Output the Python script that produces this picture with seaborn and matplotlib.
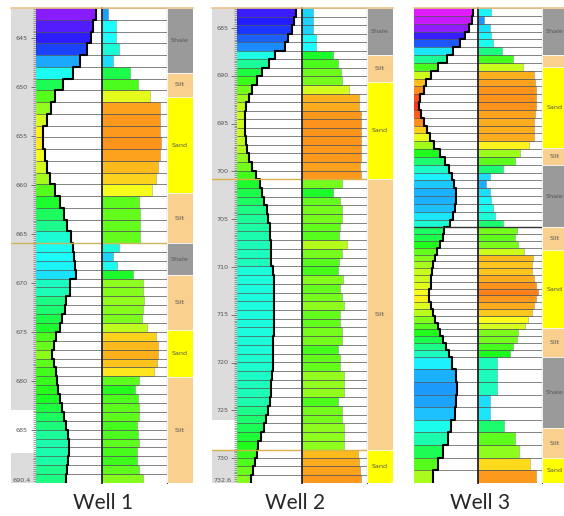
import numpy as np
import matplotlib
matplotlib.use("Agg")
import matplotlib.pyplot as plt
import seaborn as sns
from matplotlib import colormaps

sns.set_theme(style="white")
plt.rcParams['font.family'] = ['DejaVu Sans']

# ---------------- data ----------------
well_names = ["Well 1", "Well 2", "Well 3"]

# Well 1
w1_zone_bounds = [641.9, 665.9, 690.4]
w1_zone_rows = [20, 27]
w1_gr = [0.92, 0.87, 0.83, 0.77, 0.67, 0.57, 0.41, 0.29, 0.23, 0.16,
         0.11, 0.10, 0.13, 0.16, 0.21, 0.29, 0.37, 0.42, 0.47, 0.54,
         0.57, 0.58, 0.59, 0.61, 0.52, 0.51, 0.46, 0.44, 0.40, 0.37,
         0.30, 0.27, 0.24, 0.28, 0.31, 0.32, 0.34, 0.36, 0.39, 0.42,
         0.45, 0.48, 0.50, 0.50, 0.49, 0.47, 0.46]
w1_sand = [0.10, 0.22, 0.22, 0.27, 0.18, 0.44, 0.56, 0.75, 0.89, 0.90,
           0.90, 0.91, 0.89, 0.86, 0.83, 0.77, 0.58, 0.59, 0.59, 0.59,
           0.26, 0.17, 0.24, 0.48, 0.64, 0.63, 0.65, 0.63, 0.62, 0.70,
           0.83, 0.86, 0.87, 0.85, 0.81, 0.58, 0.51, 0.56, 0.58, 0.58,
           0.55, 0.56, 0.58, 0.55, 0.54, 0.58, 0.63]
w1_litho = ["Shale", "Silt", "Sand", "Silt", "Shale", "Silt", "Sand", "Silt"]
w1_litho_tops = [641.9, 648.5, 651.0, 660.8, 665.9, 669.2, 674.8, 679.6]
w1_depth_labels = [645, 650, 655, 660, 665, 670, 675, 680, 685, 690.4]
w1_formation_tops = [665.9]
w1_white_spans = [(682.9, 687.3)]

# Well 2
w2_zone_bounds = [682.9, 700.8, 729.1, 732.6]
w2_zone_rows = [20, 31, 4]
w2_gr = [0.91, 0.88, 0.84, 0.79, 0.74, 0.58, 0.49, 0.38, 0.30, 0.23,
         0.18, 0.14, 0.13, 0.12, 0.13, 0.14, 0.15, 0.19, 0.23, 0.29,
         0.36, 0.39, 0.42, 0.46, 0.48, 0.50, 0.51, 0.52, 0.53, 0.53,
         0.56, 0.57, 0.57, 0.57, 0.57, 0.57, 0.57, 0.57, 0.56, 0.56,
         0.55, 0.55, 0.54, 0.53, 0.52, 0.51, 0.47, 0.44, 0.41, 0.37,
         0.33, 0.30, 0.27, 0.24, 0.21]
w2_sand = [0.17, 0.17, 0.17, 0.22, 0.22, 0.48, 0.56, 0.60, 0.61, 0.73,
           0.87, 0.88, 0.90, 0.91, 0.91, 0.91, 0.90, 0.90, 0.89, 0.90,
           0.61, 0.48, 0.59, 0.61, 0.61, 0.59, 0.57, 0.69, 0.61, 0.57,
           0.55, 0.63, 0.59, 0.61, 0.64, 0.59, 0.59, 0.61, 0.61, 0.55,
           0.59, 0.59, 0.65, 0.65, 0.65, 0.56, 0.61, 0.61, 0.64, 0.64,
           0.64, 0.86, 0.88, 0.89, 0.90]
w2_litho = ["Shale", "Silt", "Sand", "Silt", "Sand"]
w2_litho_tops = [682.9, 687.8, 690.6, 700.8, 729.1]
w2_depth_labels = [685, 690, 695, 700, 705, 710, 715, 720, 725, 730, 732.6]
w2_formation_tops = [700.8, 729.1]
w2_white_spans = [(726.0, 729.1)]

# Well 3 (no depth track)
w3_zone_bounds = [700.0, 723.1, 736.7, 750.0]
w3_zone_rows = [28, 19, 10]
w3_gr = [0.92, 0.90, 0.86, 0.79, 0.72, 0.61, 0.51, 0.38, 0.27, 0.19,
         0.15, 0.10, 0.08, 0.11, 0.15, 0.20, 0.25, 0.31, 0.41, 0.48,
         0.55, 0.60, 0.63, 0.65, 0.65, 0.64, 0.61, 0.56,
         0.47, 0.45, 0.41, 0.36, 0.33, 0.30, 0.28, 0.27, 0.26, 0.24,
         0.23, 0.26, 0.29, 0.33, 0.37, 0.41, 0.45, 0.50, 0.54,
         0.60, 0.65, 0.67, 0.66, 0.64, 0.58, 0.53, 0.46, 0.37, 0.30]
w3_sand = [0.21, 0.09, 0.18, 0.21, 0.24, 0.37, 0.55, 0.71, 0.87, 0.89,
           0.91, 0.91, 0.91, 0.89, 0.88, 0.88, 0.88, 0.79, 0.66, 0.58,
           0.39, 0.18, 0.12, 0.18, 0.21, 0.24, 0.26, 0.39,
           0.61, 0.58, 0.62, 0.72, 0.86, 0.85, 0.85, 0.88, 0.91, 0.93,
           0.90, 0.88, 0.84, 0.78, 0.73, 0.62, 0.61, 0.55, 0.50,
           0.30, 0.30, 0.30, 0.18, 0.19, 0.40, 0.58, 0.64, 0.82, 0.90]
w3_litho = ["Shale", "Silt", "Sand", "Silt", "Shale", "Silt", "Sand", "Silt",
            "Shale", "Silt", "Sand"]
w3_litho_tops = [700.0, 704.9, 706.2, 714.7, 716.5, 723.1, 725.5, 733.7,
                 736.7, 744.2, 747.4]
w3_formation_tops = [723.1]

# ---------------- styling / layout ----------------
W, H = 564, 516
TOP, BOT = 8, 483
LITHO_COLORS = {"Shale": "#9a9a9a", "Silt": "#fad08f", "Sand": "#ffff00"}
CMAP = colormaps["gist_rainbow"]

wells = [
    dict(name=well_names[0], zb=w1_zone_bounds, zr=w1_zone_rows, gr=w1_gr, sand=w1_sand,
         litho=w1_litho, ltops=w1_litho_tops, dlabels=w1_depth_labels,
         ftops=w1_formation_tops, white=w1_white_spans, fcolor="#cdb65a",
         gr_range=(-0.15, 1.10),
         depth_x=(11, 36), gr_x=(36, 101.7), sd_x=(101.7, 166.7), li_x=(166.7, 193),
         title_x=103),
    dict(name=well_names[1], zb=w2_zone_bounds, zr=w2_zone_rows, gr=w2_gr, sand=w2_sand,
         litho=w2_litho, ltops=w2_litho_tops, dlabels=w2_depth_labels,
         ftops=w2_formation_tops, white=w2_white_spans, fcolor="#d9b04a",
         gr_range=(-0.25, 1.21),
         depth_x=(212, 237), gr_x=(237, 302), sd_x=(302, 367), li_x=(367, 393),
         title_x=295),
    dict(name=well_names[2], zb=w3_zone_bounds, zr=w3_zone_rows, gr=w3_gr, sand=w3_sand,
         litho=w3_litho, ltops=w3_litho_tops, dlabels=None,
         ftops=w3_formation_tops, white=[], fcolor="#333333",
         gr_range=(0.03, 0.99),
         depth_x=None, gr_x=(414, 478), sd_x=(478, 542), li_x=(542, 568),
         title_x=480),
]


def soften(c, f=0.12):
    c = np.array(c[:3])
    return tuple(c * (1 - f) + f * 0.9)


def px_axes(fig, x0, x1):
    return fig.add_axes([x0 / W, 1 - BOT / H, (x1 - x0) / W, (BOT - TOP) / H])


def style_axes(ax, top, base):
    ax.set_xlim(0, 1)
    ax.set_ylim(base, top)
    ax.set_xticks([])
    ax.set_yticks([])
    ax.set_xlabel("")
    ax.set_ylabel("")
    for s in ax.spines.values():
        s.set_visible(False)
    ax.spines["top"].set_visible(True)
    ax.spines["top"].set_color("#f0c488")
    ax.spines["top"].set_linewidth(1.2)


fig = plt.figure(figsize=(W / 100, H / 100), dpi=100)
fig.patch.set_facecolor("white")

for w in wells:
    bounds = [w["zb"][0]]
    for i, n in enumerate(w["zr"]):
        bounds += list(np.linspace(w["zb"][i], w["zb"][i + 1], n + 1)[1:])
    bounds = np.array(bounds)
    tops, bases = bounds[:-1], bounds[1:]
    centers = (tops + bases) / 2
    heights = bases - tops
    top, base = bounds[0], bounds[-1]
    gr = np.array(w["gr"])
    sd = np.array(w["sand"])

    vmin, vmax = w["gr_range"]
    gr_cols = [soften(CMAP(np.clip((g - vmin) / (vmax - vmin), 0, 1))) for g in gr]
    sd_cols = [soften(CMAP(np.clip(0.73 - 0.66 * v, 0, 1))) for v in sd]

    # depth track
    if w["depth_x"] is not None:
        axd = px_axes(fig, *w["depth_x"])
        axd.set_facecolor("#dcdcdc")
        for a, b in w["white"]:
            axd.axhspan(a, b, color="white", lw=0)
        style_axes(axd, top, base)
        minor = np.arange(np.ceil(top * 5) / 5, base, 0.2)
        axd.hlines(minor, 0.88, 1.0, color="#777777", lw=0.5)
        for d in w["dlabels"]:
            axd.hlines([d], 0.78, 1.0, color="#666666", lw=0.6)
            va = "bottom" if d == w["dlabels"][-1] else "center"
            axd.text(0.42, d if va == "center" else base, f"{d:g}", transform=axd.get_yaxis_transform(),
                     ha="center", va=va, fontsize=4.6, color="#555555")
        for f in w["ftops"]:
            axd.axhline(f, color=w["fcolor"], lw=1.0)

    # GR track
    axg = px_axes(fig, *w["gr_x"])
    axg.barh(centers, gr, height=heights, left=0, color=gr_cols, edgecolor="none")
    axg.hlines(bounds, 0, 1, color="#555555", lw=0.6, alpha=0.85)
    xs = np.repeat(gr, 2)
    ys = np.column_stack([tops, bases]).ravel()
    sns.lineplot(x=xs, y=ys, sort=False, estimator=None, color="black", lw=1.5,
                 ax=axg, legend=False)
    for f in w["ftops"]:
        axg.axhline(f, color=w["fcolor"], lw=1.0)
    style_axes(axg, top, base)

    # sand / second track
    axs = px_axes(fig, *w["sd_x"])
    axs.barh(centers, sd, height=heights, left=0, color=sd_cols,
             edgecolor=(0, 0, 0, 0.3), linewidth=0.4)
    axs.hlines(bounds, 0, 1, color="#555555", lw=0.6, alpha=0.85)
    for f in w["ftops"]:
        axs.axhline(f, color=w["fcolor"], lw=1.0)
    style_axes(axs, top, base)
    axs.spines["left"].set_visible(True)
    axs.spines["left"].set_color("#222222")
    axs.spines["left"].set_linewidth(1.3)
    axs.spines["right"].set_visible(True)
    axs.spines["right"].set_color("#444444")
    axs.spines["right"].set_linewidth(0.8)

    # lithology track
    axl = px_axes(fig, *w["li_x"])
    lt = np.array(w["ltops"] + [base])
    axl.barh((lt[:-1] + lt[1:]) / 2, 1, height=np.diff(lt), left=0,
             color=[LITHO_COLORS[l] for l in w["litho"]], edgecolor="white", linewidth=0.5)
    for name, a, b in zip(w["litho"], lt[:-1], lt[1:]):
        if b - a > 1.5:
            axl.text(0.5, (a + b) / 2, name, transform=axl.get_yaxis_transform(),
                     ha="center", va="center", fontsize=4.6, color="#555555")
    style_axes(axl, top, base)

    fig.text(w["title_x"] / W, 1 - 503 / H, w["name"], ha="center", va="center",
             fontsize=15, color="#262626", family=["Lato", "DejaVu Sans"])

fig.savefig("out.png", dpi=100, facecolor="white")
